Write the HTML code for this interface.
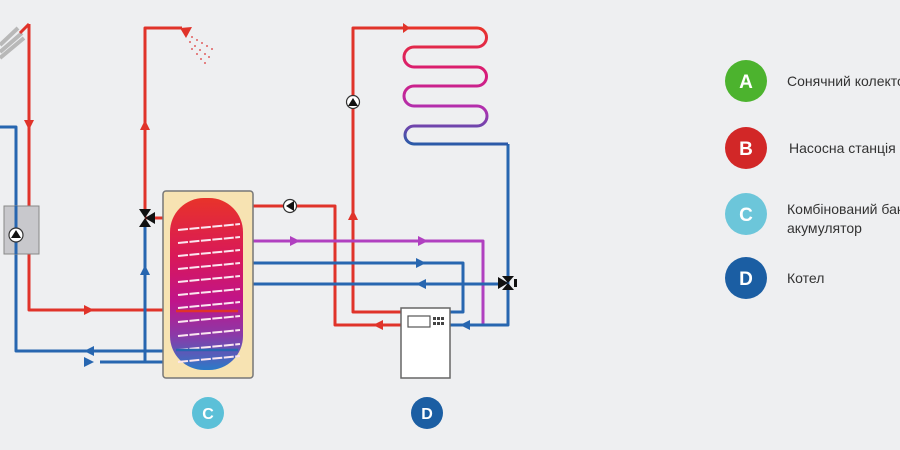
<!DOCTYPE html>
<html><head><meta charset="utf-8"><style>
html,body{margin:0;padding:0;background:#eeeff1;}
svg{display:block}
text{font-family:"Liberation Sans","DejaVu Sans",sans-serif}
</style></head><body>
<svg width="900" height="450" viewBox="0 0 900 450" xmlns="http://www.w3.org/2000/svg">
<defs>
<linearGradient id="tg" x1="0" y1="0" x2="0" y2="1">
<stop offset="0" stop-color="#e8332a"/>
<stop offset="0.35" stop-color="#d8185a"/>
<stop offset="0.6" stop-color="#c0148a"/>
<stop offset="0.8" stop-color="#8a3aa8"/>
<stop offset="1" stop-color="#2a7ac8"/>
</linearGradient>
<linearGradient id="rg" x1="0" y1="0" x2="0" y2="1">
<stop offset="0" stop-color="#e8332a"/>
<stop offset="0.4" stop-color="#d81a7a"/>
<stop offset="0.7" stop-color="#b030b0"/>
<stop offset="1" stop-color="#2a5aa8"/>
</linearGradient>
</defs>
<rect width="900" height="450" fill="#eeeff1"/>
<g fill="none" stroke-width="3" stroke-linejoin="round">
<!-- solar collector -->
<path d="M0 45 L18 28 M0 52 L22 33 M0 58 L24 38" stroke="#b8b8b8" stroke-width="4"/>
<path d="M20 33 L29 24" stroke="#e0332a"/>
<!-- red solar loop -->
<path d="M29 24 V310 H175" stroke="#e0332a"/>
<!-- blue solar return -->
<path d="M0 127 H16 V351 H175" stroke="#2766b0"/>
<path d="M100 362 H175" stroke="#2766b0"/>
<!-- DHW -->
<path d="M145 215 V28 H182" stroke="#e0332a"/>
<path d="M145 218 H235" stroke="#e0332a"/>
<path d="M145 222 V362" stroke="#2766b0"/>
<!-- right side -->
<path d="M253 206 H335 V325 H401" stroke="#e0332a"/>
<path d="M401 312 H353 V28 H405" stroke="#e0332a"/>
<path d="M253 241 H483 V325" stroke="#b040c0"/>
<path d="M253 263 H463 V312 H450" stroke="#2766b0"/>
<path d="M253 284 H500" stroke="#2766b0"/>
<path d="M450 325 H508 V144" stroke="#2766b0"/>
<!-- radiator -->
<path d="M405 28 H477 A9.5 9.5 0 0 1 477 47 H414 A10 10 0 0 0 414 67 H477 A9.5 9.5 0 0 1 477 86 H414 A10 10 0 0 0 414 106 H477 A10 10 0 0 1 477 126 H414 A9 9 0 0 0 414 144 H508" stroke="url(#rg)"/>
</g>
<!-- arrows -->
<g fill="#e0332a">
<path d="M24 120 L34 120 L29 130Z"/>
<path d="M84 305 L94 310 L84 315Z"/>
<path d="M140 130 L150 130 L145 120Z"/>
<path d="M348 220 L358 220 L353 210Z"/>
<path d="M383 320 L383 330 L373 325Z"/>
<path d="M403 23 L410 28 L403 33Z"/>
</g>
<g fill="#2766b0">
<path d="M94 346 L94 356 L84 351Z"/>
<path d="M84 357 L94 362 L84 367Z"/>
<path d="M140 275 L150 275 L145 265Z"/>
<path d="M416 258 L426 263 L416 268Z"/>
<path d="M426 279 L426 289 L416 284Z"/>
<path d="M470 320 L470 330 L460 325Z"/>
</g>
<g fill="#b040c0">
<path d="M290 236 L300 241 L290 246Z"/>
<path d="M418 236 L428 241 L418 246Z"/>
</g>
<!-- shower -->
<path d="M180 28 L192 27 L186 38Z" fill="#e0332a"/>
<g fill="#e06060">
<circle cx="192" cy="37" r="1"/><circle cx="197" cy="40" r="1"/><circle cx="202" cy="43" r="1"/><circle cx="207" cy="46" r="1"/><circle cx="212" cy="49" r="1"/>
<circle cx="190" cy="42" r="1"/><circle cx="195" cy="46" r="1"/><circle cx="200" cy="50" r="1"/><circle cx="205" cy="54" r="1"/><circle cx="209" cy="57" r="1"/>
<circle cx="192" cy="49" r="1"/><circle cx="197" cy="54" r="1"/><circle cx="201" cy="59" r="1"/><circle cx="205" cy="63" r="1"/>
</g>
<!-- pump station box -->
<rect x="4" y="206" width="35" height="48" fill="#c8c8cc" stroke="#888" stroke-width="1"/>
<path d="M16 206 V254" stroke="#2766b0" stroke-width="3"/>
<circle cx="16" cy="235" r="7" fill="#fff" stroke="#333" stroke-width="1.2"/>
<path d="M11 238 L21 238 L16 230Z" fill="#111"/>
<!-- pumps -->
<circle cx="290" cy="206" r="6.5" fill="#fff" stroke="#333" stroke-width="1.2"/>
<path d="M286 206 L294 201 L294 211Z" fill="#111"/>
<circle cx="353" cy="102" r="6.5" fill="#fff" stroke="#333" stroke-width="1.2"/>
<path d="M348 106 L358 106 L353 98Z" fill="#111"/>
<!-- valves -->
<path d="M139 209 L151 209 L139 227 L151 227Z" fill="#111"/>
<path d="M145 218 L155 212 L155 224Z" fill="#111"/>
<path d="M502 276 L514 276 L502 290 L514 290Z" fill="#111"/>
<path d="M508 283 L498 277 L498 289Z" fill="#111"/>
<rect x="514" y="279" width="3" height="8" fill="#111"/>
<!-- tank -->
<rect x="163" y="191" width="90" height="187" rx="3" fill="#f7e3b2" stroke="#777" stroke-width="1.5"/>
<rect x="170" y="198" width="73" height="172" rx="34" fill="url(#tg)"/>
<g stroke="#fbe6f0" stroke-width="2" stroke-dasharray="10 1.5" fill="none">
<path d="M178 230 L240 224"/><path d="M178 243 L240 237"/><path d="M178 256 L240 250"/><path d="M178 269 L240 263"/><path d="M178 282 L240 276"/><path d="M178 295 L240 289"/><path d="M178 308 L240 302"/><path d="M178 322 L240 316"/><path d="M178 336 L240 330"/><path d="M178 350 L240 344"/><path d="M178 362 L240 356"/>
</g>
<path d="M176 311 H238" stroke="#e0332a" stroke-width="2.5"/>
<path d="M176 350 H238" stroke="#2766b0" stroke-width="2.5"/>
<!-- boiler -->
<rect x="401" y="308" width="49" height="70" fill="#fff" stroke="#666" stroke-width="1.5"/>
<rect x="408" y="316" width="22" height="11" fill="#fff" stroke="#555" stroke-width="1.2"/>
<g fill="#444"><rect x="433" y="317" width="3" height="3"/><rect x="437" y="317" width="3" height="3"/><rect x="441" y="317" width="3" height="3"/><rect x="433" y="322" width="3" height="3"/><rect x="437" y="322" width="3" height="3"/><rect x="441" y="322" width="3" height="3"/></g>
<!-- badges -->
<circle cx="208" cy="413" r="16" fill="#5bc0d8"/>
<text x="208" y="419" text-anchor="middle" font-size="16" font-weight="bold" fill="#fff">C</text>
<circle cx="427" cy="413" r="16" fill="#1b5ea3"/>
<text x="427" y="419" text-anchor="middle" font-size="16" font-weight="bold" fill="#fff">D</text>
<!-- legend -->
<circle cx="746" cy="81" r="21" fill="#4cb32e"/>
<text x="746" y="88" text-anchor="middle" font-size="19" font-weight="bold" fill="#fff">A</text>
<text x="787" y="86" font-size="14" fill="#333">Сонячний колектор</text>
<circle cx="746" cy="148" r="21" fill="#d22727"/>
<text x="746" y="155" text-anchor="middle" font-size="19" font-weight="bold" fill="#fff">B</text>
<text x="789" y="153" font-size="14" fill="#333">Насосна станція</text>
<circle cx="746" cy="214" r="21" fill="#6cc6da"/>
<text x="746" y="221" text-anchor="middle" font-size="19" font-weight="bold" fill="#fff">C</text>
<text x="787" y="214" font-size="14" fill="#333">Комбінований бак-</text>
<text x="787" y="233" font-size="14" fill="#333">акумулятор</text>
<circle cx="746" cy="278" r="21" fill="#1b5ea3"/>
<text x="746" y="285" text-anchor="middle" font-size="19" font-weight="bold" fill="#fff">D</text>
<text x="787" y="283" font-size="14" fill="#333">Котел</text>
</svg>
</body></html>
